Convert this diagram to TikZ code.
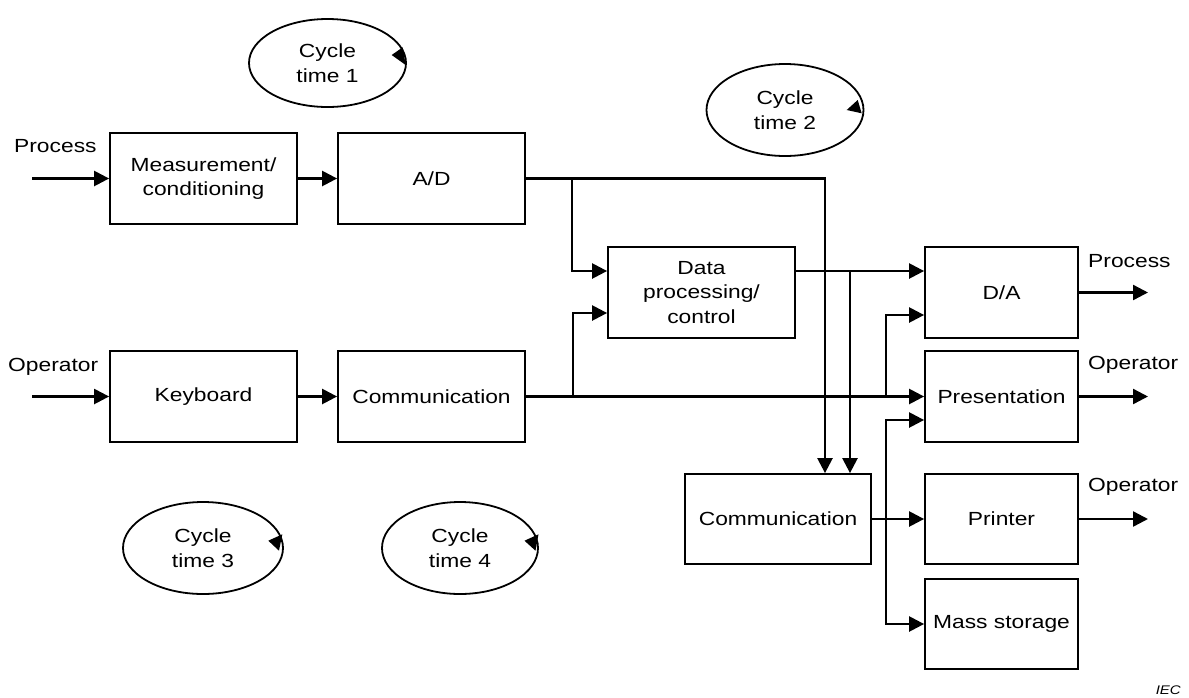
\documentclass[tikz,border=0pt]{standalone}
\usepackage{fontspec}
\setmainfont[FakeStretch=1.2]{Liberation Sans}
\usetikzlibrary{arrows.meta,shapes.geometric}
\begin{document}
\begin{tikzpicture}[x=1pt,y=-1pt,
  txt/.style={font=\fontsize{19}{24.5}\selectfont},
  box/.style={txt, draw, line width=1.8pt, align=center, inner sep=0pt},
  wbox/.style={box, minimum width=187pt, minimum height=91pt},
  nbox/.style={box, minimum width=153pt, minimum height=91pt},
  cyc/.style={txt, draw, ellipse, line width=1.8pt, align=center, inner sep=0pt},
  arr/.style={line width=2.4pt, -{Triangle[length=15pt,width=15pt]}},
  ln/.style={line width=2.4pt},
  lbl/.style={txt, anchor=base west, inner sep=0pt},
]
\useasboundingbox (0,0) rectangle (1189,697);

% boxes
\node[wbox] (meas)  at (203.5,178.5) {Measurement/\\conditioning};
\node[wbox] (ad)    at (431.5,178.5) {A/D};
\node[wbox] (kbd)   at (203.5,396.5) {Keyboard};
\node[wbox] (comma) at (431.5,396.5) {Communication};
\node[wbox] (dp)    at (701.5,292.5) {Data\\processing/\\control};
\node[box, minimum width=186pt, minimum height=90pt] (commb) at (778,519) {Communication};
\node[nbox] (da)    at (1001.5,292.5) {D/A};
\node[nbox] (pres)  at (1001.5,396.5) {Presentation};
\node[box, minimum width=153pt, minimum height=90pt] (prn)  at (1001.5,519) {Printer};
\node[box, minimum width=153pt, minimum height=90pt] (mass) at (1001.5,624) {Mass storage};

% cycle ellipses
\node[cyc, minimum width=157pt, minimum height=88pt] (cy1) at (327.5,63) {Cycle\\time 1};
\node[cyc, minimum width=157pt, minimum height=92pt] (cy2) at (785,110) {Cycle\\time 2};
\node[cyc, minimum width=160pt, minimum height=92pt] (cy3) at (203,548) {Cycle\\time 3};
\node[cyc, minimum width=156pt, minimum height=92pt] (cy4) at (460,548) {Cycle\\time 4};
\fill (391.7,55) -- (402.7,47.3) -- (405.7,65) -- cycle;
\fill (846.7,110) -- (857.7,100) -- (861.7,113.3) -- cycle;
\fill (268.3,540.7) -- (282.3,534.3) -- (279,550.7) -- cycle;
\fill (524.5,540.7) -- (538.5,534.3) -- (535.5,550.7) -- cycle;

% labels
\node[lbl] (lp) at (14,152) {Process};
\node[lbl] (lo) at (8,371) {Operator};
\node[lbl] (rp) at (1088,267) {Process};
\node[lbl] (ro1) at (1088,369) {Operator};
\node[lbl] (ro2) at (1088,491) {Operator};
\node[font=\fontsize{12.5}{14}\selectfont\itshape, anchor=base east, inner sep=0pt] (iec) at (1181,694) {IEC};

% coordinates
\coordinate (pin) at (32,178.5);
\coordinate (oin) at (32,396.5);
\coordinate (dpin1) at ([yshift=21.5pt]dp.west);
\coordinate (dpin2) at ([yshift=-20.5pt]dp.west);
\coordinate (dpout) at ([yshift=21.5pt]dp.east);
\coordinate (dain1) at ([yshift=21.5pt]da.west);
\coordinate (dain2) at ([yshift=-22.5pt]da.west);
\coordinate (presin2) at ([yshift=-23.5pt]pres.west);
\coordinate (c2a) at ([xshift=47pt]commb.north);
\coordinate (c2b) at ([xshift=72pt]commb.north);
\coordinate (b1) at (572,178.5);
\coordinate (b2) at (573,396.5);
\coordinate (b3) at (886,396.5);
\coordinate (b4) at (850,271);
\coordinate (b5) at (886,519);
\coordinate (pout) at (1148,292.5);
\coordinate (oout1) at (1148,396.5);
\coordinate (oout2) at (1148,519);

% connectors
\draw[arr] (pin) -- (meas.west);
\draw[arr] (meas.east) -- (ad.west);
\draw[arr] (oin) -- (kbd.west);
\draw[arr] (kbd.east) -- (comma.west);
\draw[arr] (ad.east) -| (c2a);
\draw[arr] (b1) |- (dpin1);
\draw[arr] (comma.east) -- (pres.west);
\draw[arr] (b2) |- (dpin2);
\draw[arr] (b3) |- (dain2);
\draw[arr] (dpout) -- (dain1);
\draw[arr] (b4) -- (c2b);
\draw[arr] (commb.east) -- (prn.west);
\draw[arr] (b5) |- (presin2);
\draw[arr] (b5) |- (mass.west);
\draw[arr] (da.east) -- (pout);
\draw[arr] (pres.east) -- (oout1);
\draw[arr] (prn.east) -- (oout2);
\end{tikzpicture}
\end{document}
